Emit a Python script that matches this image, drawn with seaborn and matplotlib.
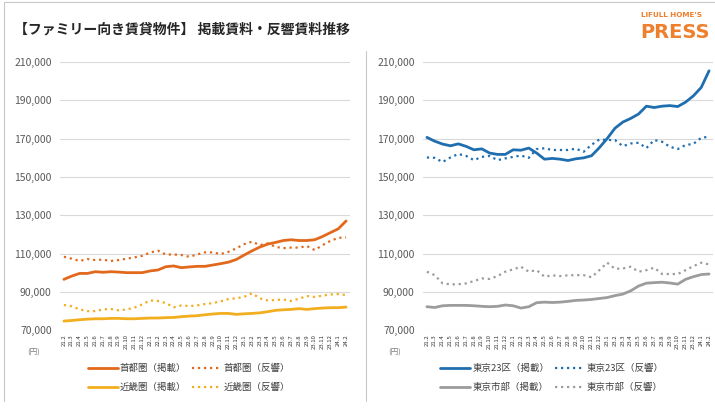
import pandas as pd
import seaborn as sns
import matplotlib.pyplot as plt
from matplotlib.lines import Line2D

# month labels (yy.m)
months = ["21.2", "21.3", "21.4", "21.5", "21.6", "21.7", "21.8", "21.9", "21.10", "21.11", "21.12",
          "22.1", "22.2", "22.3", "22.4", "22.5", "22.6", "22.7", "22.8", "22.9", "22.10", "22.11", "22.12",
          "23.1", "23.2", "23.3", "23.4", "23.5", "23.6", "23.7", "23.8", "23.9", "23.10", "23.11", "23.12",
          "24.1", "24.2"]

# left panel
shuto_keisai = [96500, 98200, 99600, 99600, 100500, 100200, 100500, 100300, 100000, 100000, 100000,
                100900, 101400, 103100, 103500, 102600, 103000, 103300, 103300, 104000, 104700, 105500,
                106900, 109200, 111400, 113400, 114900, 115800, 116800, 117200, 116800, 116800, 117200,
                118900, 120900, 122900, 127000]
shuto_hankyo = [108300, 107300, 106100, 107100, 106600, 106800, 106100, 106600, 107300, 108000, 108800,
                110500, 111500, 109500, 109500, 109200, 108300, 109500, 110600, 110600, 109700, 110900,
                112700, 114900, 116200, 114400, 115300, 113500, 112800, 113100, 113100, 113900, 111800,
                114400, 116600, 118200, 118400]
kinki_keisai = [74700, 75000, 75400, 75700, 75900, 75900, 76100, 76100, 75900, 75900, 76100,
                76300, 76300, 76500, 76600, 77000, 77300, 77500, 78000, 78400, 78700, 78700,
                78200, 78500, 78700, 79000, 79600, 80300, 80600, 80800, 81200, 80800, 81200,
                81500, 81700, 81700, 82000]
kinki_hankyo = [83100, 82400, 80800, 79900, 79900, 80800, 81000, 80300, 80800, 81700, 83400,
                85500, 85200, 84100, 81900, 82900, 82500, 82900, 83600, 84100, 85000, 86200,
                86600, 87400, 89200, 86600, 85500, 85700, 86000, 85200, 86400, 87800, 87300,
                88000, 88600, 88800, 88300]

# right panel
tokyo23_keisai = [170700, 168700, 167200, 166300, 167300, 166000, 164200, 164700, 162500, 161800, 161800,
                  164200, 164000, 165100, 162500, 159300, 159700, 159300, 158600, 159500, 160000, 161100,
                  165300, 170100, 175500, 178700, 180600, 182900, 187000, 186300, 187000, 187300, 186800,
                  189100, 192400, 196800, 205500]
tokyo23_hankyo = [160200, 160000, 157800, 160200, 162000, 161000, 158800, 160500, 161000, 158800, 159700,
                  160500, 161200, 160000, 164600, 165000, 164100, 164100, 164100, 164800, 163200, 166800,
                  169600, 169300, 169300, 166100, 167500, 167900, 165100, 169300, 168400, 165800, 164600,
                  166700, 167300, 170500, 171000]
shibu_keisai = [82200, 81800, 82700, 82900, 82900, 82900, 82700, 82400, 82200, 82400, 83100,
                82700, 81500, 82200, 84300, 84600, 84400, 84600, 85000, 85500, 85700, 86000,
                86500, 87000, 88000, 88800, 90500, 93000, 94500, 94800, 95000, 94600, 94000,
                96500, 97900, 99000, 99300]
shibu_hankyo = [100500, 98700, 94400, 93900, 93900, 94400, 95600, 97000, 96700, 98200, 100500,
                101700, 103100, 100500, 101300, 97900, 98600, 98200, 98600, 98700, 98700, 97600,
                101300, 105200, 102000, 102200, 103100, 100500, 101300, 102600, 99300, 99300, 99300,
                101300, 103400, 105200, 104300]

yticks = [70000, 90000, 110000, 130000, 150000, 170000, 190000, 210000]

sns.set_style("white")
plt.rcParams['font.family'] = ['Noto Sans CJK JP', 'DejaVu Sans']

ORANGE = "#E2691C"
GOLD = "#F2AE1E"
BLUE = "#1F6EB0"
GRAY = "#9C9C9C"
DOT = (0, (1, 1.7))

fig = plt.figure(figsize=(7.15, 4.09), dpi=100)
ax1 = fig.add_axes([0.0839, 0.193, 0.4056, 0.655])
ax2 = fig.add_axes([0.5916, 0.193, 0.4056, 0.655])

x = list(range(len(months)))

panels = [
    (ax1, [("首都圏（掲載）", shuto_keisai, ORANGE, "-"),
           ("近畿圏（掲載）", kinki_keisai, GOLD, "-"),
           ("首都圏（反響）", shuto_hankyo, ORANGE, DOT),
           ("近畿圏（反響）", kinki_hankyo, GOLD, DOT)]),
    (ax2, [("東京23区（掲載）", tokyo23_keisai, BLUE, "-"),
           ("東京市部（掲載）", shibu_keisai, GRAY, "-"),
           ("東京23区（反響）", tokyo23_hankyo, BLUE, DOT),
           ("東京市部（反響）", shibu_hankyo, GRAY, DOT)]),
]

for ax, series in panels:
    handles = []
    for name, vals, col, ls in series:
        lw = 2.0 if ls == "-" else 1.6
        sns.lineplot(x=x, y=vals, ax=ax, color=col, linestyle=ls, linewidth=lw, legend=False)
        handles.append(Line2D([], [], color=col, linestyle=ls, linewidth=lw, label=name))
    ax.set_xlim(-0.5, len(months) - 0.5)
    ax.set_ylim(70000, 210000)
    ax.set_yticks(yticks)
    ax.set_yticklabels([f"{v:,}" for v in yticks], fontsize=7.5, color="#595959")
    ax.set_xticks(x)
    ax.set_xticklabels(months, rotation=90, fontsize=4.3, color="#333333")
    ax.tick_params(axis='both', length=0)
    ax.tick_params(axis='x', pad=3)
    ax.tick_params(axis='y', pad=6)
    ax.grid(axis='y', color="#D9D9D9", linewidth=0.8)
    ax.set_axisbelow(True)
    for s in ax.spines.values():
        s.set_visible(False)
    ax.set_xlabel("")
    ax.set_ylabel("")
    ax.legend(handles=handles, loc='upper center', bbox_to_anchor=(0.445, -0.095), ncol=2,
              frameon=False, fontsize=6.8, handlelength=3.2, columnspacing=0.6,
              handletextpad=0.2, labelspacing=1.0, labelcolor="#404040")

fig.text(0.047, 0.139, "(円)", fontsize=5.5, color="#7F7F7F", ha='center', va='center')
fig.text(0.552, 0.139, "(円)", fontsize=5.5, color="#7F7F7F", ha='center', va='center')

fig.text(0.019, 0.927, "【ファミリー向き賃貸物件】 掲載賃料・反響賃料推移", fontsize=10,
         fontweight='bold', color="#262626", ha='left', va='center')

fig.text(0.897, 0.963, "LIFULL HOME'S", fontsize=5.2, fontweight='bold', color="#EE7F2D",
         ha='left', va='center', family=['DejaVu Sans'])
fig.text(0.895, 0.920, "PRESS", fontsize=14, fontweight='bold', color="#EE7F2D",
         ha='left', va='center', family=['DejaVu Sans'])

# frame and divider
fc = "#C8C8C8"
fig.add_artist(Line2D([0.006, 0.006], [0.02, 0.995], color=fc, linewidth=0.8))
fig.add_artist(Line2D([0.006, 1.0], [0.995, 0.995], color=fc, linewidth=0.8))
fig.add_artist(Line2D([0.512, 0.512], [0.02, 0.875], color=fc, linewidth=0.8))

fig.savefig("out.png", dpi=100)
